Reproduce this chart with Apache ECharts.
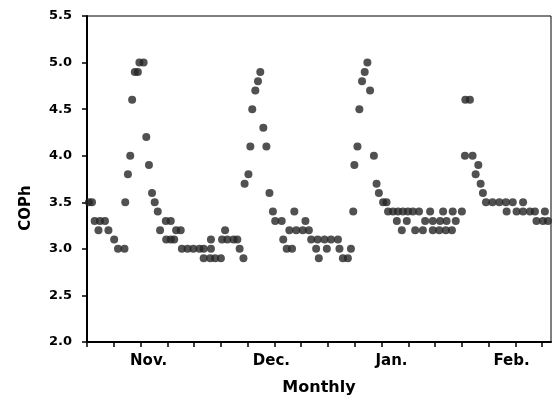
<!DOCTYPE html>
<html>
	<head>
		<meta charset="UTF-8">
		<title>COPh monthly</title>
		<script src="https://cdn.jsdelivr.net/npm/echarts@6/dist/echarts.min.js"></script>
		<style type="text/css">
			html, body { margin: 0; padding: 0; background: #fff; }
			#main { width: 553px; height: 405px; }
		</style>
	</head>
	<body>
		<div id="main"></div>
		<script type="text/javascript">
			// day index along the season
			var dayNo = [
				0.5, 1.3, 2.0, 3.0, 3.4, 4.7, 5.6, 7.1, 8.1, 9.8, 10.0, 10.7, 11.3, 11.8, 12.5, 13.3, 13.7, 14.8, 15.5, 16.2,
				17.0, 17.7, 18.5, 19.1, 20.6, 20.7, 21.9, 21.9, 22.8, 23.3, 24.5, 24.8, 26.3, 27.8, 29.4, 30.5, 30.5, 32.2, 32.4, 32.4,
				33.5, 35.0, 35.3, 36.1, 36.7, 38.3, 39.3, 39.9, 40.9,
				41.2, 42.2, 42.7, 43.2, 44.0, 44.7, 45.3, 46.1, 46.9, 47.7, 48.6, 49.2, 50.9, 51.3, 52.2, 52.9, 53.6, 54.2, 54.7, 56.4,
				57.1, 58.0, 58.6, 59.9, 60.3, 60.6, 62.1, 62.7, 63.8, 65.6, 66.0, 66.9, 68.2, 69.0, 69.6,
				69.9, 70.7, 71.2, 71.9, 72.6, 73.3, 74.0, 75.0, 75.7, 76.3, 77.4, 78.3, 78.7, 80.0, 81.0, 81.3, 82.3, 82.6, 83.6, 83.9,
				85.2, 85.8, 86.8, 87.8, 88.4, 89.7, 90.4, 90.4, 92.1, 92.3, 93.1, 93.8, 94.0, 95.4, 95.6, 96.4, 98.0,
				98.8, 98.9, 100.1, 100.8, 101.6, 102.3, 102.9, 103.5, 104.3, 106.0, 107.8, 109.5, 109.7, 111.3, 112.3, 114.0, 114.0, 115.8, 117.1, 117.5,
				119.2, 119.7, 120.5
			];
			var coph = [
				3.5, 3.5, 3.3, 3.2, 3.3, 3.3, 3.2, 3.1, 3.0, 3.0, 3.5, 3.8, 4.0, 4.6, 4.9, 4.9, 5.0, 5.0, 4.2, 3.9,
				3.6, 3.5, 3.4, 3.2, 3.3, 3.1, 3.3, 3.1, 3.1, 3.2, 3.2, 3.0, 3.0, 3.0, 3.0, 3.0, 2.9, 2.9, 3.0, 3.1,
				2.9, 2.9, 3.1, 3.2, 3.1, 3.1, 3.1, 3.0, 2.9,
				3.7, 3.8, 4.1, 4.5, 4.7, 4.8, 4.9, 4.3, 4.1, 3.6, 3.4, 3.3, 3.3, 3.1, 3.0, 3.2, 3.0, 3.4, 3.2, 3.2,
				3.3, 3.2, 3.1, 3.0, 3.1, 2.9, 3.1, 3.0, 3.1, 3.1, 3.0, 2.9, 2.9, 3.0, 3.4,
				3.9, 4.1, 4.5, 4.8, 4.9, 5.0, 4.7, 4.0, 3.7, 3.6, 3.5, 3.5, 3.4, 3.4, 3.3, 3.4, 3.2, 3.4, 3.3, 3.4,
				3.4, 3.2, 3.4, 3.2, 3.3, 3.4, 3.3, 3.2, 3.2, 3.3, 3.4, 3.2, 3.3, 3.2, 3.4, 3.3, 3.4,
				4.0, 4.6, 4.6, 4.0, 3.8, 3.9, 3.7, 3.6, 3.5, 3.5, 3.5, 3.5, 3.4, 3.5, 3.4, 3.5, 3.4, 3.4, 3.4, 3.3,
				3.3, 3.4, 3.3
			];
			var tickDays = [0, 7, 14, 21, 28, 35, 42, 49, 56, 63, 70, 77, 84, 91, 98, 105, 112, 119];
			var monthPos = [16.1, 48.2, 79.6, 111.0];
			var monthLabels = ['Nov.', 'Dec.', 'Jan.', 'Feb.'];

			var points = [];
			for (var i = 0; i < dayNo.length; i++) {
				points.push([dayNo[i], coph[i]]);
			}

			var myChart = echarts.init(document.getElementById('main'), null, { renderer: 'canvas' });
			var font = 'DejaVu Sans';
			var option = {
				animation: false,
				backgroundColor: '#fff',
				grid: {
					left: 87,
					right: 2,
					top: 16,
					bottom: 63,
					show: true,
					borderColor: '#000',
					borderWidth: 1
				},
				xAxis: {
					type: 'value',
					min: 0,
					max: 121.3,
					name: 'Monthly',
					nameLocation: 'middle',
					nameGap: 38,
					nameTextStyle: { fontFamily: font, fontWeight: 'bold', fontSize: 16, color: '#000' },
					splitLine: { show: false },
					axisLine: { onZero: false, lineStyle: { color: '#000', width: 2 } },
					axisTick: { customValues: tickDays, length: 5, lineStyle: { color: '#000', width: 1.5 } },
					axisLabel: {
						customValues: monthPos,
						margin: 12,
						fontFamily: font,
						fontWeight: 'bold',
						fontSize: 15,
						color: '#000',
						formatter: function(v) {
							var k = monthPos.indexOf(v);
							return k >= 0 ? monthLabels[k] : '';
						}
					}
				},
				yAxis: {
					type: 'value',
					min: 2.0,
					max: 5.5,
					interval: 0.5,
					name: 'COPh',
					nameLocation: 'middle',
					nameGap: 53,
					nameRotate: 90,
					nameTextStyle: { fontFamily: font, fontWeight: 'bold', fontSize: 15, color: '#000', padding: [0, 58, 0, 0] },
					splitLine: { show: false },
					axisLine: { lineStyle: { color: '#000', width: 2 } },
					axisTick: { length: 5, lineStyle: { color: '#000', width: 1.5 } },
					axisLabel: {
						margin: 15,
						fontFamily: font,
						fontWeight: 'bold',
						fontSize: 13,
						color: '#000',
						formatter: function(v) { return v.toFixed(1); }
					}
				},
				series: [{
					type: 'scatter',
					data: points,
					symbol: 'circle',
					symbolSize: 8,
					itemStyle: { color: '#262626' }
				}]
			};
			myChart.setOption(option);
		</script>
	</body>
</html>
